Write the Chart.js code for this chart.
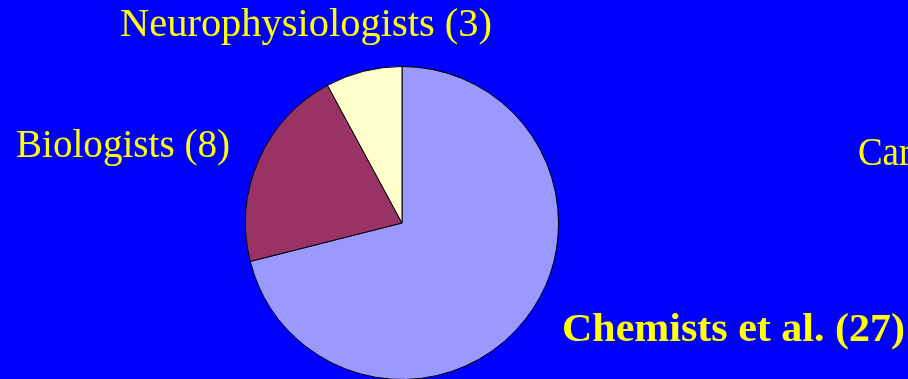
<!DOCTYPE html>
<html>
<head>
<meta charset="utf-8">
<script src="https://cdn.jsdelivr.net/npm/chart.js@4.4.1/dist/chart.umd.min.js"></script>
<style>
  html, body { margin: 0; padding: 0; background: #0000FF; overflow: hidden; }
  #wrap { position: relative; width: 908px; height: 400px; }
</style>
</head>
<body>
<div id="wrap"><canvas id="c" width="908" height="400"></canvas></div>
<script>
// Who took part, by discipline
const categories = ['Chemists et al.', 'Biologists', 'Neurophysiologists'];
const counts = [27, 8, 3];
const sliceColors = ['#9999FF', '#993366', '#FFFFCC'];

// Extra caption at the right edge of the slide (runs off the page)
const sideCaption = 'Cardiologists';

// Label placement: left x, baseline y, target width, bold
const labelLayout = [
  { x: 562, y: 341, w: 343, bold: true },   // Chemists et al.
  { x: 16,  y: 157, w: 214, bold: false },  // Biologists
  { x: 120, y: 36,  w: 372, bold: false }   // Neurophysiologists
];

const labelPlugin = {
  id: 'sliceLabels',
  afterDraw(chart) {
    const ctx = chart.ctx;
    ctx.save();
    ctx.fillStyle = '#FFFF00';
    ctx.textBaseline = 'alphabetic';
    const draw = (text, x, y, w, bold) => {
      ctx.font = (bold ? 'bold ' : '') + '41px "Liberation Serif", "DejaVu Serif", serif';
      const natural = ctx.measureText(text).width;
      const sx = w ? w / natural : 0.9;
      ctx.save();
      ctx.translate(x, y);
      ctx.scale(sx, 1);
      ctx.fillText(text, 0, 0);
      ctx.restore();
    };
    categories.forEach((name, i) => {
      const l = labelLayout[i];
      draw(name + ' (' + counts[i] + ')', l.x, l.y, l.w, l.bold);
    });
    draw(sideCaption, 858, 165, 0, false);
    ctx.restore();
  }
};

new Chart(document.getElementById('c'), {
  type: 'pie',
  data: {
    labels: categories,
    datasets: [{
      data: counts,
      backgroundColor: sliceColors,
      borderColor: '#000000',
      borderWidth: 1,
      borderAlign: 'center'
    }]
  },
  options: {
    responsive: false,
    animation: false,
    rotation: 0,
    layout: { padding: { left: 245, right: 349, top: 66, bottom: 20 } },
    plugins: {
      legend: { display: false },
      tooltip: { enabled: false }
    }
  },
  plugins: [labelPlugin]
});
</script>
</body>
</html>
